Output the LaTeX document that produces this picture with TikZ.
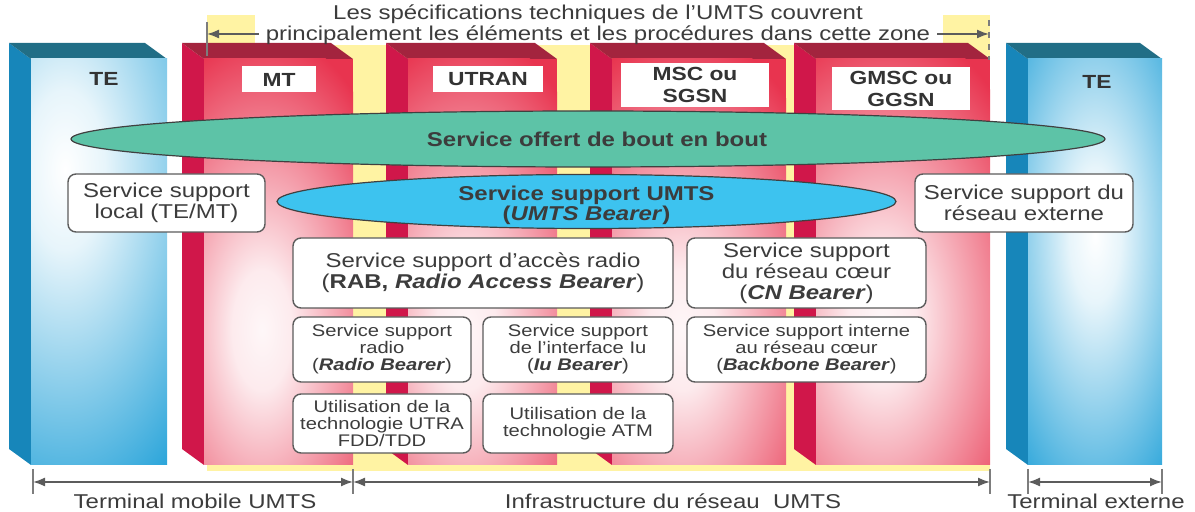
\documentclass[tikz,border=0pt]{standalone}
\usepackage{fontspec}
\setmainfont{Liberation Sans}[FakeStretch=1.2]
\usetikzlibrary{arrows.meta,shapes.geometric}

\definecolor{rouge}{HTML}{E8344F}
\definecolor{rougecote}{HTML}{D0174A}
\definecolor{rougedessus}{HTML}{A3243E}
\definecolor{bleu}{HTML}{0F99D5}
\definecolor{bleucote}{HTML}{1786BA}
\definecolor{bleudessus}{HTML}{216E86}
\definecolor{jaune}{HTML}{FFF3A3}
\definecolor{vert}{HTML}{5DC3A7}
\definecolor{ciel}{HTML}{3DC3EF}
\definecolor{texte}{HTML}{3C3C3C}
\definecolor{trait}{HTML}{5C5C5C}

\pgfdeclareradialshading{halorouge}{\pgfpointorigin}{color(0bp)=(rouge!4);color(5bp)=(rouge!10);color(25bp)=(rouge);color(50bp)=(rouge)}
\pgfdeclareradialshading{halobleu}{\pgfpointorigin}{color(0bp)=(white);color(5bp)=(bleu!10);color(25bp)=(bleu);color(50bp)=(bleu)}

% colonne en relief : #1 gauche, #2 droite, #3 couleur, #4 centre du reflet, #5 rayons
\newcommand{\bloc}[5]{%
  \fill[#3cote] (#1,59) -- (#1-22,43) -- (#1-22,449) -- (#1,465) -- cycle;
  \fill[#3dessus] (#1,59) -- (#1-22,43) -- (#2-22,43) -- (#2,59) -- cycle;
  \begin{scope}
    \clip (#1,59) rectangle (#2,465);
    \fill[#3] (#1,59) rectangle (#2,465);
    \shade[shading=halo#3] (#4) ellipse (#5);
  \end{scope}}

\begin{document}
\begin{tikzpicture}[x=0.5pt, y=-0.5pt, font=\fontsize{10}{10.5}\selectfont, text=texte,
  cadre/.style={draw=trait, line width=0.7pt, fill=white, rounded corners=4pt, align=center, inner sep=0pt},
  entete/.style={fill=white, inner sep=0pt, align=center, font=\fontsize{9.5}{11}\selectfont\bfseries, text=black!80},
  petit/.style={font=\fontsize{8.4}{8.5}\selectfont},
  cote/.style={draw=trait, line width=0.8pt, {Latex[length=6pt,width=4.5pt]}-{Latex[length=6pt,width=4.5pt]}},
  fleche/.style={draw=trait, line width=0.8pt, -{Latex[length=6pt,width=4.5pt]}},
  repere/.style={draw=trait!80, line width=0.8pt}]
    \useasboundingbox (0,0) rectangle (1195,512);

    % Zone couverte par les specifications
    \fill[jaune] (207,15) rectangle (990,471);
    \fill[white] (255,0) rectangle (943,45);

    % Colonnes
    \bloc{31}{167}{bleu}{65,170}{200 and 400}
    \bloc{204}{353}{rouge}{262,330}{150 and 300}
    \bloc{408}{557}{rouge}{466,330}{150 and 300}
    \bloc{612}{786}{rouge}{682,330}{165 and 300}
    \bloc{816}{990}{rouge}{882,320}{170 and 300}
    \bloc{1028}{1162}{bleu}{1095,235}{130 and 340}

    % Titre et limites de la zone
    \node[align=center] (zone) at (598,25) {Les spécifications techniques de l'UMTS couvrent\\principalement les éléments et les procédures dans cette zone};
    \coordinate (zg) at (207,34);
    \coordinate (zd) at (989,34);
    \draw[repere] (207,22) -- (207,56);
    \draw[repere, dashed] (989,20) -- (989,60);
    \draw[fleche] (zone.west |- zg) -- (zg);
    \draw[fleche] (zone.east |- zd) -- (zd);

    % En-tetes des colonnes
    \node[font=\fontsize{9.5}{11}\selectfont\bfseries, text=black!80] (te1) at (104,79) {TE};
    \node[entete, minimum width=37pt, minimum height=13pt] (mt) at (279,79.5) {MT};
    \node[entete, minimum width=55pt, minimum height=13pt] (utran) at (488,79.5) {UTRAN};
    \node[entete, minimum width=74pt, minimum height=22pt] (msc) at (695,85) {MSC ou\\SGSN};
    \node[entete, minimum width=69pt, minimum height=21.5pt] (gmsc) at (901,88.5) {GMSC ou\\GGSN};
    \node[font=\fontsize{9.5}{11}\selectfont\bfseries, text=black!80] (te2) at (1097,82) {TE};

    % Services de bout en bout et UMTS
    \node[ellipse, draw=black!75, fill=vert, line width=0.6pt, minimum width=517pt, minimum height=28pt, inner sep=0pt] (bout) at (588,139) {};
    \node[font=\fontsize{10}{10.5}\selectfont\bfseries] (bouttxt) at ([xshift=4.5pt]bout.center) {Service offert de bout en bout};
    \node[ellipse, draw=black!75, fill=ciel, line width=0.6pt, minimum width=309.5pt, minimum height=27pt, inner sep=0pt] (umts) at (586.5,201.5) {};
    \node[align=center, font=\fontsize{10}{10}\selectfont\bfseries] (umtstxt) at ([yshift=-2pt]umts.center) {Service support UMTS\\(\textit{UMTS Bearer})};

    % Services support
    \node[cadre, minimum width=98.5pt, minimum height=29pt] (local) at (166.5,203) {Service support\\local (TE/MT)};
    \node[cadre, minimum width=109pt, minimum height=29pt] (externe) at (1024,203) {Service support du\\réseau externe};
    \node[cadre, minimum width=190pt, minimum height=35pt] (rab) at (483,273) {Service support d'accès radio\\(\textbf{RAB, \textit{Radio Access Bearer}})};
    \node[cadre, minimum width=119.5pt, minimum height=35pt] (cn) at (806.5,273) {Service support\\du réseau cœur\\(\textbf{\textit{CN Bearer}})};
    \node[cadre, petit, minimum width=89pt, minimum height=32.5pt] (radio) at (382,349.5) {Service support\\radio\\(\textbf{\textit{Radio Bearer}})};
    \node[cadre, petit, minimum width=95pt, minimum height=32.5pt] (iu) at (578,349.5) {Service support\\de l'interface Iu\\(\textbf{\textit{Iu Bearer}})};
    \node[cadre, petit, minimum width=119.5pt, minimum height=32.5pt] (backbone) at (806.5,349.5) {Service support interne\\au réseau cœur\\(\textbf{\textit{Backbone Bearer}})};
    \node[cadre, petit, minimum width=89pt, minimum height=29.5pt] (utra) at (382,423.5) {Utilisation de la\\technologie UTRA\\FDD/TDD};
    \node[cadre, petit, minimum width=95pt, minimum height=29.5pt] (atm) at (578,423.5) {Utilisation de la\\technologie ATM};

    % Cotes du bas
    \foreach \x in {33,353,990,1028,1162} \draw[repere] (\x,469) -- (\x,494);
    \coordinate (c1) at (33,482);
    \coordinate (c2) at (353,482);
    \coordinate (c3) at (990,482);
    \coordinate (c4) at (1028,482);
    \coordinate (c5) at (1162,482);
    \draw[cote] (c1) -- (c2);
    \draw[cote] (c2) -- (c3);
    \draw[cote] (c4) -- (c5);
    \node (tmobile) at (195,501) {Terminal mobile UMTS};
    \node (infra) at (673,501) {Infrastructure du réseau~ UMTS};
    \node (texterne) at (1096,501) {Terminal externe};
\end{tikzpicture}
\end{document}
